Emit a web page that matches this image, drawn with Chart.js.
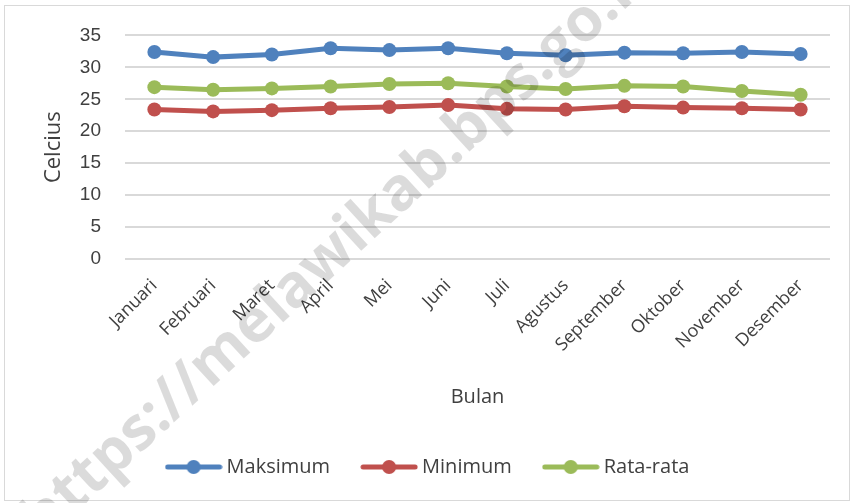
<!DOCTYPE html>
<html>
<head>
<meta charset="utf-8">
<script src="https://cdn.jsdelivr.net/npm/chart.js@4"></script>
<style>
  html, body { margin: 0; padding: 0; background: #fff; }
  #wrap { position: relative; width: 854px; height: 503px; overflow: hidden; }
  #frame { position: absolute; left: 4px; top: 5px; width: 846px; height: 496px;
           border: 1.5px solid #d9d9d9; box-sizing: border-box; pointer-events: none; }
  #mark { position: absolute; left: 28px; top: 484px; white-space: nowrap;
          font: bold 60px "Open Sans", sans-serif; color: rgba(0, 0, 0, 0.14);
          transform: rotate(-42.5deg); transform-origin: left center; pointer-events: none; }
</style>
</head>
<body>
<div id="wrap">
  <canvas id="chart" width="854" height="503"></canvas>
  <div id="frame"></div>
  <div id="mark">https://melawikab.bps.go.id</div>
</div>
<script>
const months = ['Januari', 'Februari', 'Maret', 'April', 'Mei', 'Juni', 'Juli',
                'Agustus', 'September', 'Oktober', 'November', 'Desember'];
const maksimum = [32.4, 31.6, 32.0, 33.0, 32.7, 33.0, 32.2, 31.9, 32.3, 32.2, 32.4, 32.1];
const minimum  = [23.4, 23.1, 23.3, 23.6, 23.8, 24.1, 23.5, 23.4, 23.9, 23.7, 23.6, 23.4];
const rataRata = [26.9, 26.5, 26.7, 27.0, 27.4, 27.5, 27.0, 26.6, 27.1, 27.0, 26.3, 25.7];
const seriesNames = ['Maksimum', 'Minimum', 'Rata-rata'];
const colors = ['#4f81bd', '#c0504d', '#9bbb59'];
const yMin = 0, yMax = 35, yStep = 5;

// legend icon: short line with a dot, like the office chart legend
function legendIcon(color) {
    const c = document.createElement('canvas');
    c.width = 58; c.height = 16;
    const g = c.getContext('2d');
    g.strokeStyle = color;
    g.lineWidth = 5;
    g.lineCap = 'round';
    g.beginPath(); g.moveTo(3, 8); g.lineTo(55, 8); g.stroke();
    g.fillStyle = color;
    g.beginPath(); g.arc(29, 8, 7, 0, Math.PI * 2); g.fill();
    return c;
}
const icons = colors.map(legendIcon);

const datasets = [maksimum, minimum, rataRata].map((values, i) => ({
    label: seriesNames[i],
    data: values,
    borderColor: colors[i],
    backgroundColor: colors[i],
    borderWidth: 5,
    pointRadius: 7,
    pointHoverRadius: 7,
    pointBorderWidth: 0,
    tension: 0
}));

new Chart(document.getElementById('chart'), {
    type: 'line',
    data: { labels: months, datasets: datasets },
    options: {
        responsive: false,
        animation: false,
        layout: { padding: { left: 30, right: 24, top: 34, bottom: 16 } },
        plugins: {
            tooltip: { enabled: false },
            legend: {
                position: 'bottom',
                labels: {
                    usePointStyle: true,
                    pointStyleWidth: 46,
                    padding: 36,
                    color: '#404040',
                    font: { family: 'Open Sans', size: 20 },
                    generateLabels: function(chart) {
                        const items = Chart.defaults.plugins.legend.labels.generateLabels(chart);
                        items.forEach((it, i) => { it.pointStyle = icons[i]; });
                        return items;
                    }
                }
            }
        },
        scales: {
            x: {
                offset: true,
                grid: { display: false },
                border: { display: false },
                ticks: {
                    minRotation: 45, maxRotation: 45, padding: 8,
                    color: '#404040',
                    font: { family: 'Open Sans', size: 18 }
                },
                title: {
                    display: true, text: 'Bulan', color: '#404040',
                    font: { family: 'Open Sans', size: 20 },
                    padding: { top: 0, bottom: 12 }
                },
                afterFit: function(axis) { axis.height = 162; }
            },
            y: {
                min: yMin, max: yMax,
                grid: { color: '#d9d9d9', lineWidth: 2, drawTicks: false },
                border: { display: false },
                ticks: {
                    stepSize: yStep, padding: 24, color: '#404040',
                    font: { family: 'Liberation Sans', size: 19 }
                },
                title: {
                    display: true, text: 'Celcius', color: '#404040',
                    font: { family: 'Open Sans', size: 22 },
                    padding: { top: 11, bottom: 4 }
                },
                afterFit: function(axis) { axis.width = 95; }
            }
        }
    }
});
</script>
</body>
</html>
